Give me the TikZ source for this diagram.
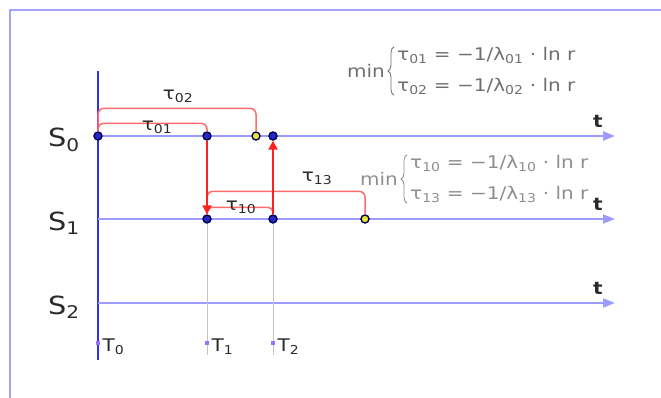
\documentclass[tikz,border=0pt]{standalone}
\usepackage{fontspec}
\setmainfont{DejaVu Sans}[FakeStretch=1.15]
\usetikzlibrary{arrows.meta,positioning,decorations.pathreplacing}
\definecolor{Frame}{HTML}{A4A4FF}
\definecolor{Axis}{HTML}{9C9CFF}
\definecolor{Spine}{HTML}{3030F0}
\definecolor{Jump}{HTML}{FF2020}
\definecolor{Wait}{HTML}{FF6A6A}
\definecolor{Dot}{HTML}{2828C8}
\definecolor{DotRim}{HTML}{000050}
\definecolor{Hit}{HTML}{E8E830}
\definecolor{Drop}{HTML}{C4C4C4}
\definecolor{Mark}{HTML}{9A70FF}
\definecolor{Ink}{HTML}{2A2A2A}
\definecolor{FormA}{HTML}{707070}
\definecolor{FormB}{HTML}{8E8E8E}

\begin{document}
\begin{tikzpicture}[x=1pt,y=-1pt,
    ev/.style={circle,draw=DotRim,fill=Dot,line width=1.4pt,inner sep=0pt,minimum size=8pt},
    hit/.style={ev,fill=Hit},
    tmark/.style={rectangle,fill=Mark,inner sep=0pt,minimum size=4.5pt},
    axis/.style={Axis,line width=2pt,-{Triangle[length=12pt,width=9pt]}},
    spine/.style={Spine,line width=2pt},
    wait/.style={Wait,line width=1.5pt,rounded corners=6pt},
    jump/.style={Jump,line width=2pt,-{Triangle[length=9pt,width=9pt]}},
    drop/.style={Drop,line width=1pt},
    state/.style={font=\fontsize{25}{28}\selectfont,text=Ink,inner sep=0pt},
    lab/.style={font=\fontsize{17.4}{20}\selectfont,text=Ink,inner sep=0pt},
    rule/.style={font=\fontsize{17.4}{20.6}\selectfont,inner sep=0pt,align=left},
    curly/.style={decorate,decoration={brace,amplitude=6pt},line width=0.8pt}
  ]
  \useasboundingbox (0,0) rectangle (661,398);
  \draw[Frame,line width=1.5pt] (10,398) -- (10,10) -- (661,10);

  % time axes and state labels
  \coordinate (s0) at (98,136);
  \coordinate (s1) at (98,219);
  \coordinate (s2) at (98,303);
  \draw[spine] (98,71) -- (98,360);
  \foreach \i/\y in {0/136,1/219,2/303} {
    \draw[axis] (s\i) -- (615,\y);
    \node[lab,anchor=south,font=\fontsize{17.4}{20}\selectfont\bfseries] (t\i) at (598,\y-8) {t};
    \node[state] (S\i) at (64,\y+4) {S\textsubscript{\i}};
  }

  % events
  \node[ev] (a0) at (s0) {};
  \node[ev] (a1) at (207,136) {};
  \node[hit] (h02) at (256,136) {};
  \node[ev] (a2) at (273,136) {};
  \node[ev] (b1) at (207,219) {};
  \node[ev] (b2) at (273,219) {};
  \node[hit] (h13) at (365,219) {};

  % time marks
  \node[tmark] (m0) at (98,343) {};
  \node[tmark] (m1) at (207,343) {};
  \node[tmark] (m2) at (273,343) {};
  \foreach \i in {0,1,2}
    \node[lab,anchor=west] (T\i) at ([xshift=2pt,yshift=-4pt]m\i.east) {T\textsubscript{\i}};
  \draw[drop] (b1.south) -- (m1.north);
  \draw[drop] (b2.south) -- (m2.north);
  \draw[drop] (m1.south) -- ++(0,10);
  \draw[drop] (m2.south) -- ++(0,10);

  % waiting times
  \draw[wait] (a0.north) |- ([yshift=23pt]h02.north) -- (h02.north);
  \draw[wait] (a0.north) |- ([yshift=8pt]a1.north) -- (a1.north);
  \draw[wait] (b1.north) |- ([yshift=23pt]h13.north) -- (h13.north);
  \draw[wait,rounded corners=5pt] (b1.north) |- ([yshift=7pt]b2.north) -- (b2.north);
  \node[lab] (w02) at (178,96) {τ\textsubscript{02}};
  \node[lab] (w01) at (157,127) {τ\textsubscript{01}};
  \node[lab] (w13) at (317,178) {τ\textsubscript{13}};
  \node[lab] (w10) at (241,207) {τ\textsubscript{10}};

  % jumps
  \draw[jump] (a1.south) -- (b1.north);
  \draw[jump] (b2.north) -- (a2.south);

  % sampling rules
  \node[rule,text=FormA,anchor=west] (f0) at (397,71)
    {τ\textsubscript{01} = −1/λ\textsubscript{01} · ln r\\[11pt]
     τ\textsubscript{02} = −1/λ\textsubscript{02} · ln r};
  \node[rule,text=FormA,left=12pt of f0] (min0) {min};
  \draw[curly,FormA] ([xshift=-3pt]f0.south west) -- ([xshift=-3pt]f0.north west);
  \node[rule,text=FormB,anchor=west] (f1) at (410,179)
    {τ\textsubscript{10} = −1/λ\textsubscript{10} · ln r\\[11pt]
     τ\textsubscript{13} = −1/λ\textsubscript{13} · ln r};
  \node[rule,text=FormB,left=12pt of f1] (min1) {min};
  \draw[curly,FormB] ([xshift=-3pt]f1.south west) -- ([xshift=-3pt]f1.north west);
\end{tikzpicture}
\end{document}
